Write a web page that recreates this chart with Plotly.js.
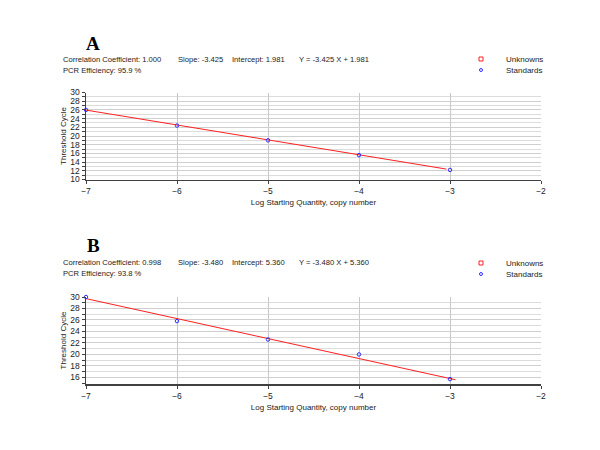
<!DOCTYPE html>
<html>
<head>
<meta charset="utf-8">
<script src="https://cdn.plot.ly/plotly-3.0.1.min.js"></script>
<style>html,body{margin:0;padding:0;background:#fff;}#chart{width:600px;height:450px;}</style>
</head>
<body>
<div id="chart"></div>
<script>
// ---- data ----
var logQty = [-7, -6, -5, -4, -3];
var ctA = [26.0, 22.4, 19.0, 15.6, 12.2];
var ctB = [30.0, 25.8, 22.6, 20.0, 15.7];
var fitXA = [-7, -3.04];
var fitXB = [-7, -2.94];
var statsA = {r: '1.000', slope: -3.425, intercept: 1.981, eff: '95.9'};
var statsB = {r: '0.998', slope: -3.480, intercept: 5.360, eff: '93.8'};
var panelLabels = ['A', 'B'];
var legendNames = ['Unknowns', 'Standards'];
var xTitle = 'Log Starting Quantity, copy number';
var yTitle = 'Threshold Cycle';

function fitY(xs, s) { return xs.map(function (x) { return s.slope * x + s.intercept; }); }

var W = 600, H = 450;
function py(p) { return 1 - p / H; }
function px(p) { return p / W; }

var f = 'Liberation Sans, Arial, sans-serif';
var txtCol = '#222';

var traces = [
  {x: fitXA, y: fitY(fitXA, statsA), xaxis: 'x', yaxis: 'y', mode: 'lines',
   line: {color: '#ff2020', width: 1}, showlegend: false, hoverinfo: 'skip'},
  {x: logQty, y: ctA, xaxis: 'x', yaxis: 'y', mode: 'markers', name: legendNames[1],
   marker: {symbol: 'circle-open', size: 3.5, color: '#3030ff', line: {width: 1}}, cliponaxis: false, showlegend: false},
  {x: fitXB, y: fitY(fitXB, statsB), xaxis: 'x2', yaxis: 'y2', mode: 'lines',
   line: {color: '#ff2020', width: 1}, showlegend: false, hoverinfo: 'skip'},
  {x: logQty, y: ctB, xaxis: 'x2', yaxis: 'y2', mode: 'markers', name: legendNames[1],
   marker: {symbol: 'circle-open', size: 3.5, color: '#3030ff', line: {width: 1}}, cliponaxis: false, showlegend: false}
];

function xAx(anchor) {
  return {
    domain: [86 / W, 541 / W], anchor: anchor, range: [-7, -2], dtick: 1, tick0: -7,
    showgrid: true, gridcolor: '#c8c8c8', gridwidth: 1, zeroline: false,
    showline: true, linecolor: '#404040', linewidth: 1.5, mirror: false,
    ticks: 'outside', ticklen: 3, tickcolor: '#404040',
    tickfont: {family: f, size: 8.5, color: txtCol},
    title: {text: xTitle, font: {family: f, size: 8, color: txtCol}, standoff: 4}
  };
}
function yAx(anchor, dom, rng) {
  return {
    domain: dom, anchor: anchor, range: rng, dtick: 2, tick0: 0,
    showgrid: true, gridcolor: '#cfcfcf', gridwidth: 1, zeroline: false,
    showline: true, linecolor: '#404040', linewidth: 1.5,
    ticks: 'outside', ticklen: 3, tickcolor: '#404040',
    minor: {dtick: 1, tick0: 0, showgrid: true, gridcolor: '#dcdcdc', ticks: 'outside', ticklen: 3, tickcolor: '#404040'},
    tickfont: {family: f, size: 8.5, color: txtCol},
    title: {text: yTitle, font: {family: f, size: 8, color: txtCol}, standoff: 2}
  };
}

function panelAnn(label, s, yLetter, y1, y2) {
  var sgn = function (v) { return v < 0 ? '-' + Math.abs(v).toFixed(3) : v.toFixed(3); };
  var base = {xref: 'paper', yref: 'paper', showarrow: false, xanchor: 'left', yanchor: 'middle',
              font: {family: f, size: 7.6, color: txtCol}};
  function a(x, y, t) { var o = Object.assign({}, base); o.x = px(x); o.y = py(y); o.text = t; return o; }
  return [
    {xref: 'paper', yref: 'paper', showarrow: false, x: px(93), y: py(yLetter), xanchor: 'center', yanchor: 'middle',
     text: '<b>' + label + '</b>', font: {family: 'Liberation Serif, Times New Roman, serif', size: 19, color: '#000'}},
    a(61, y1, 'Correlation Coefficient: ' + s.r),
    a(176, y1, 'Slope: ' + sgn(s.slope)),
    a(230, y1, 'Intercept: ' + sgn(s.intercept)),
    a(297, y1, 'Y = ' + sgn(s.slope) + ' X + ' + sgn(s.intercept)),
    a(61, y2, 'PCR Efficiency: ' + s.eff + ' %')
  ];
}
function legendAnn(y1, y2) {
  var base = {xref: 'paper', yref: 'paper', showarrow: false, xanchor: 'left', yanchor: 'middle',
              font: {family: f, size: 8, color: txtCol}};
  return [
    Object.assign({}, base, {x: px(504), y: py(y1), text: legendNames[0]}),
    Object.assign({}, base, {x: px(504), y: py(y2), text: legendNames[1]})
  ];
}
function legendShapes(y1, y2) {
  return [
    {type: 'rect', xref: 'paper', yref: 'paper', x0: px(479), x1: px(483), y0: py(y1 + 2), y1: py(y1 - 2),
     line: {color: '#ff2020', width: 1}, fillcolor: 'rgba(0,0,0,0)'},
    {type: 'circle', xref: 'paper', yref: 'paper', x0: px(479.5), x1: px(482.5), y0: py(y2 + 1.5), y1: py(y2 - 1.5),
     line: {color: '#3030ff', width: 1}, fillcolor: 'rgba(0,0,0,0)'}
  ];
}

var layout = {
  width: W, height: H, margin: {l: 0, r: 0, t: 0, b: 0},
  paper_bgcolor: '#fff', plot_bgcolor: '#fff', showlegend: false,
  xaxis: xAx('y'),
  yaxis: yAx('x', [py(179.5), py(92.5)], [10, 30]),
  xaxis2: xAx('y2'),
  yaxis2: yAx('x2', [py(384), py(297)], [14.85, 30]),
  annotations: [].concat(panelAnn(panelLabels[0], statsA, 43, 59, 70), legendAnn(59, 70),
                         panelAnn(panelLabels[1], statsB, 246, 262, 273), legendAnn(263, 274)),
  shapes: [].concat(legendShapes(59, 70), legendShapes(263, 274))
};

Plotly.newPlot('chart', traces, layout, {displayModeBar: false, staticPlot: true});
</script>
</body>
</html>
